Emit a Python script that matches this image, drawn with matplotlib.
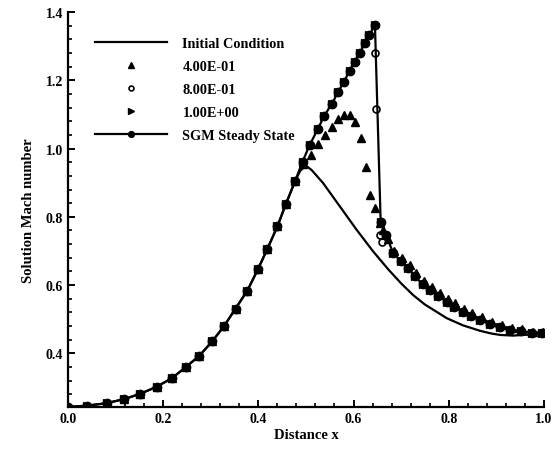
import numpy as np
import matplotlib
matplotlib.use("Agg")
import matplotlib.pyplot as plt
from matplotlib.ticker import MultipleLocator, FormatStrFormatter

# rising branch, shared by all solutions
x_rise = [0.0, 0.041, 0.081, 0.118, 0.151, 0.186, 0.218, 0.247, 0.276, 0.303,
          0.328, 0.352, 0.377, 0.399, 0.419, 0.440, 0.458, 0.477]
m_rise = [0.243, 0.247, 0.254, 0.266, 0.281, 0.302, 0.327, 0.359, 0.393, 0.435,
          0.480, 0.531, 0.584, 0.646, 0.706, 0.772, 0.838, 0.904]

# SGM steady state
x_ss = x_rise + [0.493, 0.508, 0.525, 0.538, 0.554, 0.568, 0.580, 0.592, 0.603,
                 0.613, 0.624, 0.633, 0.645, 0.657, 0.668, 0.683, 0.699, 0.715,
                 0.729, 0.745, 0.761, 0.778, 0.796, 0.811, 0.829, 0.846, 0.866,
                 0.887, 0.908, 0.929, 0.951, 0.974, 0.996]
m_ss = m_rise + [0.962, 1.011, 1.057, 1.095, 1.130, 1.166, 1.196, 1.228, 1.254,
                 1.280, 1.308, 1.332, 1.361, 0.785, 0.748, 0.695, 0.670, 0.651,
                 0.626, 0.602, 0.585, 0.568, 0.550, 0.537, 0.521, 0.509, 0.498,
                 0.485, 0.476, 0.469, 0.466, 0.461, 0.461]

# initial condition
x_init = x_rise + [0.488, 0.500, 0.512, 0.536, 0.571, 0.606, 0.641, 0.673,
                   0.700, 0.725, 0.750, 0.796, 0.830, 0.866, 0.890, 0.908,
                   0.935, 0.970, 1.0]
m_init = m_rise + [0.935, 0.950, 0.937, 0.899, 0.831, 0.763, 0.699, 0.646,
                   0.605, 0.571, 0.543, 0.503, 0.482, 0.466, 0.458, 0.454,
                   0.452, 0.455, 0.460]

# t = 0.4
x_t04 = x_rise + [0.494, 0.510, 0.526, 0.540, 0.554, 0.568, 0.580, 0.592, 0.604,
                  0.615, 0.626, 0.634, 0.646, 0.655, 0.662, 0.672, 0.686, 0.702,
                  0.718, 0.732, 0.748, 0.764, 0.781, 0.799, 0.814, 0.832, 0.849,
                  0.869, 0.890, 0.911, 0.932, 0.954, 0.977, 0.998]
m_t04 = m_rise + [0.955, 0.982, 1.014, 1.040, 1.064, 1.086, 1.098, 1.098, 1.079,
                  1.030, 0.946, 0.865, 0.826, 0.782, 0.760, 0.735, 0.700, 0.678,
                  0.660, 0.636, 0.612, 0.595, 0.578, 0.560, 0.547, 0.531, 0.518,
                  0.506, 0.493, 0.482, 0.474, 0.470, 0.464, 0.462]

# t = 0.8
x_t08 = x_rise + [0.493, 0.508, 0.525, 0.538, 0.554, 0.568, 0.580, 0.592, 0.603,
                  0.613, 0.624, 0.633, 0.645, 0.646, 0.647, 0.655, 0.659, 0.668,
                  0.683, 0.699, 0.715, 0.729, 0.745, 0.761, 0.778, 0.796, 0.811,
                  0.829, 0.846, 0.866, 0.887, 0.908, 0.929, 0.951, 0.974, 0.996]
m_t08 = m_rise + [0.962, 1.011, 1.057, 1.095, 1.130, 1.166, 1.196, 1.228, 1.254,
                  1.280, 1.308, 1.332, 1.361, 1.279, 1.115, 0.748, 0.726, 0.748,
                  0.695, 0.670, 0.651, 0.626, 0.602, 0.585, 0.568, 0.550, 0.537,
                  0.521, 0.509, 0.498, 0.485, 0.476, 0.469, 0.466, 0.461, 0.461]

# t = 1.0
x_t10 = x_ss
m_t10 = m_ss

plt.rcParams['font.family'] = ['Liberation Serif', 'DejaVu Serif']
plt.rcParams['font.weight'] = 'bold'

fig = plt.figure(figsize=(5.55, 4.52), dpi=100)
ax = fig.add_axes([0.1225, 0.0967, 0.8575, 0.8745])

ax.plot(x_init, m_init, '-', color='black', lw=1.6, label='Initial Condition')
ax.plot(x_t04, m_t04, '^', color='black', ms=5.5, ls='none', label='4.00E-01')
ax.plot(x_t10, m_t10, '>', color='black', ms=5.5, ls='none', label='1.00E+00')
ax.plot(x_ss, m_ss, '-o', color='black', lw=1.6, ms=6, label='SGM Steady State')
ax.plot(x_t08, m_t08, 'o', color='black', mfc='none', mew=1.2, ms=5,
        ls='none', label='8.00E-01')

h, l = ax.get_legend_handles_labels()
order = [0, 1, 4, 2, 3]
leg = ax.legend([h[i] for i in order], [l[i] for i in order], loc='upper left',
                bbox_to_anchor=(0.03, 0.97), frameon=False, handlelength=5.0,
                fontsize=10.3, labelspacing=0.7, markerscale=0.7, handletextpad=1.1)

ax.set_xlim(0, 1.0)
ax.set_ylim(0.242, 1.4)
ax.xaxis.set_major_locator(MultipleLocator(0.2))
ax.xaxis.set_minor_locator(MultipleLocator(0.04))
ax.yaxis.set_major_locator(MultipleLocator(0.2))
ax.yaxis.set_minor_locator(MultipleLocator(0.04))
ax.xaxis.set_major_formatter(FormatStrFormatter('%.1f'))
ax.yaxis.set_major_formatter(FormatStrFormatter('%.1f'))

for s in ['top', 'right']:
    ax.spines[s].set_visible(False)
for s in ['left', 'bottom']:
    ax.spines[s].set_linewidth(1.6)
ax.tick_params(which='major', direction='in', length=5, width=1.4, labelsize=10)
ax.tick_params(which='minor', direction='in', length=3, width=1.2)

ax.set_xlabel('Distance x', fontsize=10.5, fontweight='bold', labelpad=2)
ax.set_ylabel('Solution Mach number', fontsize=10.5, fontweight='bold', labelpad=8)

fig.savefig('out.png', dpi=100)
